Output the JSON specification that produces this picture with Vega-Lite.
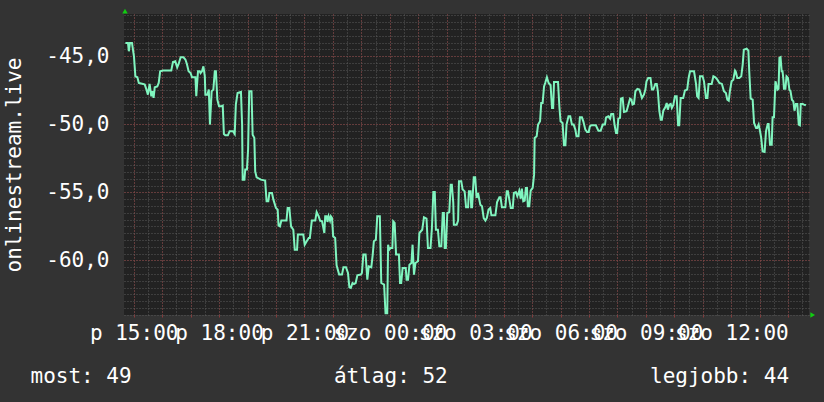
{
 "$schema": "https://vega.github.io/schema/vega-lite/v6.json",
 "width": 685,
 "height": 301,
 "autosize": {"type": "none"},
 "padding": {"left": 124, "top": 14, "right": 15, "bottom": 87},
 "background": "#333333",
 "view": {"fill": "#222222", "stroke": null},
 "config": {
  "axis": {"labelFont": "DejaVu Sans Mono", "titleFont": "DejaVu Sans Mono", "labelColor": "#ffffff", "titleColor": "#ffffff", "labelFontSize": 21, "titleFontSize": 21, "titleFontWeight": "normal", "domain": false, "ticks": false, "labelOverlap": false, "labelFlush": false, "gridDash": [1, 2], "gridWidth": 1}
 },
 "datasets": {
  "main": [
{"t":14.71,"v":-44.02},{"t":14.80,"v":-44.02},{"t":14.83,"v":-44.63},{"t":14.87,"v":-44.02},{"t":14.94,"v":-44.02},{"t":15.01,"v":-45.00},{"t":15.06,"v":-46.47},{"t":15.13,"v":-46.54},{"t":15.18,"v":-46.96},{"t":15.33,"v":-47.03},{"t":15.39,"v":-47.08},{"t":15.45,"v":-47.45},{"t":15.50,"v":-47.82},{"t":15.56,"v":-47.03},{"t":15.62,"v":-47.94},{"t":15.66,"v":-47.57},{"t":15.70,"v":-48.06},{"t":15.74,"v":-47.28},{"t":15.83,"v":-47.21},{"t":15.88,"v":-46.96},{"t":15.93,"v":-46.10},{"t":16.03,"v":-46.05},{"t":16.32,"v":-46.05},{"t":16.38,"v":-45.42},{"t":16.46,"v":-45.37},{"t":16.53,"v":-45.81},{"t":16.58,"v":-45.56},{"t":16.65,"v":-45.07},{"t":16.75,"v":-45.07},{"t":16.82,"v":-45.25},{"t":16.87,"v":-45.56},{"t":16.93,"v":-46.10},{"t":17.00,"v":-46.23},{"t":17.05,"v":-46.54},{"t":17.17,"v":-46.54},{"t":17.20,"v":-47.94},{"t":17.26,"v":-46.10},{"t":17.32,"v":-46.10},{"t":17.35,"v":-46.23},{"t":17.40,"v":-46.10},{"t":17.45,"v":-45.74},{"t":17.50,"v":-46.47},{"t":17.52,"v":-47.82},{"t":17.59,"v":-47.82},{"t":17.64,"v":-47.45},{"t":17.68,"v":-50.02},{"t":17.74,"v":-47.57},{"t":17.80,"v":-47.45},{"t":17.85,"v":-46.10},{"t":17.89,"v":-46.10},{"t":17.94,"v":-48.19},{"t":18.00,"v":-48.68},{"t":18.08,"v":-48.68},{"t":18.13,"v":-48.63},{"t":18.17,"v":-50.71},{"t":18.22,"v":-50.81},{"t":18.31,"v":-50.81},{"t":18.37,"v":-50.51},{"t":18.49,"v":-50.51},{"t":18.55,"v":-50.71},{"t":18.59,"v":-48.55},{"t":18.65,"v":-47.70},{"t":18.77,"v":-47.62},{"t":18.81,"v":-50.02},{"t":18.83,"v":-54.07},{"t":18.89,"v":-54.07},{"t":18.92,"v":-53.33},{"t":18.98,"v":-53.33},{"t":19.02,"v":-51.86},{"t":19.06,"v":-47.57},{"t":19.14,"v":-47.57},{"t":19.18,"v":-50.76},{"t":19.24,"v":-51.00},{"t":19.27,"v":-53.46},{"t":19.32,"v":-53.90},{"t":19.47,"v":-54.07},{"t":19.62,"v":-54.14},{"t":19.67,"v":-55.66},{"t":19.73,"v":-55.66},{"t":19.77,"v":-55.05},{"t":19.86,"v":-55.05},{"t":19.91,"v":-55.54},{"t":20.00,"v":-56.15},{"t":20.06,"v":-56.27},{"t":20.09,"v":-57.43},{"t":20.14,"v":-57.50},{"t":20.19,"v":-57.08},{"t":20.37,"v":-57.08},{"t":20.41,"v":-56.15},{"t":20.47,"v":-56.15},{"t":20.53,"v":-57.50},{"t":20.61,"v":-57.75},{"t":20.66,"v":-59.22},{"t":20.74,"v":-59.22},{"t":20.77,"v":-58.11},{"t":20.96,"v":-58.11},{"t":21.01,"v":-58.85},{"t":21.08,"v":-58.60},{"t":21.15,"v":-58.36},{"t":21.19,"v":-58.36},{"t":21.26,"v":-57.08},{"t":21.38,"v":-57.08},{"t":21.43,"v":-56.45},{"t":21.50,"v":-56.76},{"t":21.55,"v":-57.08},{"t":21.62,"v":-57.13},{"t":21.70,"v":-57.99},{"t":21.73,"v":-56.76},{"t":21.78,"v":-56.76},{"t":21.81,"v":-57.18},{"t":21.85,"v":-56.76},{"t":21.90,"v":-57.08},{"t":21.93,"v":-56.76},{"t":21.97,"v":-56.89},{"t":22.01,"v":-58.24},{"t":22.08,"v":-58.36},{"t":22.13,"v":-60.37},{"t":22.22,"v":-61.05},{"t":22.32,"v":-61.05},{"t":22.37,"v":-60.51},{"t":22.46,"v":-60.51},{"t":22.53,"v":-60.93},{"t":22.58,"v":-61.99},{"t":22.63,"v":-62.03},{"t":22.69,"v":-61.67},{"t":22.74,"v":-61.74},{"t":22.80,"v":-61.67},{"t":22.86,"v":-61.10},{"t":22.98,"v":-61.05},{"t":23.02,"v":-60.93},{"t":23.07,"v":-59.58},{"t":23.15,"v":-59.58},{"t":23.21,"v":-61.42},{"t":23.26,"v":-60.44},{"t":23.35,"v":-60.51},{"t":23.40,"v":-59.58},{"t":23.44,"v":-58.60},{"t":23.51,"v":-58.48},{"t":23.56,"v":-56.76},{"t":23.65,"v":-56.76},{"t":23.70,"v":-61.67},{"t":23.80,"v":-61.79},{"t":23.85,"v":-63.9},{"t":23.91,"v":-63.9},{"t":23.94,"v":-58.85},{"t":23.98,"v":-59.22},{"t":24.03,"v":-59.09},{"t":24.09,"v":-59.09},{"t":24.12,"v":-57.13},{"t":24.17,"v":-57.25},{"t":24.22,"v":-59.58},{"t":24.32,"v":-59.58},{"t":24.36,"v":-61.67},{"t":24.40,"v":-61.67},{"t":24.45,"v":-60.56},{"t":24.56,"v":-60.56},{"t":24.59,"v":-61.42},{"t":24.64,"v":-61.42},{"t":24.69,"v":-60.32},{"t":24.76,"v":-60.20},{"t":24.80,"v":-58.85},{"t":24.85,"v":-61.05},{"t":24.90,"v":-60.20},{"t":24.99,"v":-60.07},{"t":25.04,"v":-57.99},{"t":25.14,"v":-57.75},{"t":25.20,"v":-56.84},{"t":25.29,"v":-56.94},{"t":25.34,"v":-59.09},{"t":25.43,"v":-59.09},{"t":25.48,"v":-57.62},{"t":25.53,"v":-54.98},{"t":25.58,"v":-54.98},{"t":25.62,"v":-57.75},{"t":25.69,"v":-57.75},{"t":25.74,"v":-58.97},{"t":25.81,"v":-58.97},{"t":25.86,"v":-56.52},{"t":25.90,"v":-56.52},{"t":25.93,"v":-59.09},{"t":25.97,"v":-59.09},{"t":26.02,"v":-56.52},{"t":26.09,"v":-56.45},{"t":26.14,"v":-54.44},{"t":26.18,"v":-54.44},{"t":26.23,"v":-55.78},{"t":26.25,"v":-57.38},{"t":26.35,"v":-57.38},{"t":26.40,"v":-57.08},{"t":26.43,"v":-54.19},{"t":26.51,"v":-54.19},{"t":26.56,"v":-54.80},{"t":26.63,"v":-54.93},{"t":26.68,"v":-56.10},{"t":26.75,"v":-56.10},{"t":26.78,"v":-54.93},{"t":26.84,"v":-54.93},{"t":26.86,"v":-56.10},{"t":26.89,"v":-56.10},{"t":26.95,"v":-53.90},{"t":27.00,"v":-53.90},{"t":27.05,"v":-55.42},{"t":27.10,"v":-55.05},{"t":27.18,"v":-55.91},{"t":27.24,"v":-56.03},{"t":27.30,"v":-56.89},{"t":27.36,"v":-57.08},{"t":27.41,"v":-56.89},{"t":27.47,"v":-56.27},{"t":27.53,"v":-56.15},{"t":27.57,"v":-56.69},{"t":27.71,"v":-56.69},{"t":27.77,"v":-55.71},{"t":27.85,"v":-55.37},{"t":27.89,"v":-55.37},{"t":27.94,"v":-56.10},{"t":28.06,"v":-56.10},{"t":28.11,"v":-54.93},{"t":28.15,"v":-54.93},{"t":28.20,"v":-55.54},{"t":28.25,"v":-56.15},{"t":28.32,"v":-56.15},{"t":28.36,"v":-55.05},{"t":28.43,"v":-54.98},{"t":28.48,"v":-55.29},{"t":28.55,"v":-54.88},{"t":28.60,"v":-55.47},{"t":28.64,"v":-54.73},{"t":28.69,"v":-55.66},{"t":28.74,"v":-55.61},{"t":28.78,"v":-54.68},{"t":28.82,"v":-54.68},{"t":28.85,"v":-56.03},{"t":28.90,"v":-56.03},{"t":28.95,"v":-54.88},{"t":29.02,"v":-54.68},{"t":29.07,"v":-53.70},{"t":29.09,"v":-51.00},{"t":29.16,"v":-50.88},{"t":29.21,"v":-50.02},{"t":29.28,"v":-49.78},{"t":29.32,"v":-48.43},{"t":29.37,"v":-48.43},{"t":29.42,"v":-47.21},{"t":29.46,"v":-46.96},{"t":29.52,"v":-46.54},{"t":29.58,"v":-46.96},{"t":29.65,"v":-47.13},{"t":29.70,"v":-48.80},{"t":29.74,"v":-48.80},{"t":29.77,"v":-46.89},{"t":29.91,"v":-46.89},{"t":29.96,"v":-48.75},{"t":30.00,"v":-49.78},{"t":30.07,"v":-49.90},{"t":30.12,"v":-51.54},{"t":30.17,"v":-51.54},{"t":30.21,"v":-50.02},{"t":30.28,"v":-49.41},{"t":30.34,"v":-49.41},{"t":30.40,"v":-50.02},{"t":30.46,"v":-50.02},{"t":30.52,"v":-50.39},{"t":30.56,"v":-50.88},{"t":30.63,"v":-50.88},{"t":30.68,"v":-49.49},{"t":30.75,"v":-49.49},{"t":30.80,"v":-49.78},{"t":30.87,"v":-50.39},{"t":30.93,"v":-50.56},{"t":30.99,"v":-50.56},{"t":31.03,"v":-50.15},{"t":31.08,"v":-50.07},{"t":31.24,"v":-50.07},{"t":31.33,"v":-50.47},{"t":31.41,"v":-50.47},{"t":31.48,"v":-50.02},{"t":31.56,"v":-50.02},{"t":31.60,"v":-49.49},{"t":31.68,"v":-49.41},{"t":31.74,"v":-49.58},{"t":31.78,"v":-49.24},{"t":31.85,"v":-49.24},{"t":31.90,"v":-50.07},{"t":31.95,"v":-50.64},{"t":31.99,"v":-50.64},{"t":32.03,"v":-49.58},{"t":32.09,"v":-49.53},{"t":32.12,"v":-48.11},{"t":32.18,"v":-48.06},{"t":32.23,"v":-49.09},{"t":32.32,"v":-49.04},{"t":32.39,"v":-48.50},{"t":32.44,"v":-48.11},{"t":32.49,"v":-48.19},{"t":32.53,"v":-48.55},{"t":32.58,"v":-48.50},{"t":32.63,"v":-47.57},{"t":32.70,"v":-47.40},{"t":32.77,"v":-47.45},{"t":32.81,"v":-47.70},{"t":32.86,"v":-48.06},{"t":32.93,"v":-47.82},{"t":32.98,"v":-47.45},{"t":33.02,"v":-46.84},{"t":33.08,"v":-46.59},{"t":33.16,"v":-46.59},{"t":33.21,"v":-47.45},{"t":33.26,"v":-47.45},{"t":33.33,"v":-47.03},{"t":33.38,"v":-47.03},{"t":33.42,"v":-47.57},{"t":33.47,"v":-49.00},{"t":33.52,"v":-49.66},{"t":33.56,"v":-49.66},{"t":33.61,"v":-49.00},{"t":33.68,"v":-48.75},{"t":33.73,"v":-48.43},{"t":33.77,"v":-48.92},{"t":33.82,"v":-48.55},{"t":33.87,"v":-48.50},{"t":33.91,"v":-48.80},{"t":33.96,"v":-48.60},{"t":34.02,"v":-47.94},{"t":34.08,"v":-47.94},{"t":34.13,"v":-50.07},{"t":34.17,"v":-50.07},{"t":34.22,"v":-48.06},{"t":34.31,"v":-48.06},{"t":34.37,"v":-47.52},{"t":34.45,"v":-47.45},{"t":34.50,"v":-46.59},{"t":34.55,"v":-46.10},{"t":34.69,"v":-46.10},{"t":34.76,"v":-47.03},{"t":34.80,"v":-47.94},{"t":34.85,"v":-48.06},{"t":34.90,"v":-46.47},{"t":34.99,"v":-46.47},{"t":35.04,"v":-46.84},{"t":35.11,"v":-48.06},{"t":35.16,"v":-48.06},{"t":35.20,"v":-47.03},{"t":35.31,"v":-47.03},{"t":35.37,"v":-46.47},{"t":35.44,"v":-46.54},{"t":35.51,"v":-46.72},{"t":35.58,"v":-46.96},{"t":35.67,"v":-47.03},{"t":35.74,"v":-47.57},{"t":35.81,"v":-47.70},{"t":35.86,"v":-48.19},{"t":35.91,"v":-48.26},{"t":35.95,"v":-47.57},{"t":36.01,"v":-46.84},{"t":36.07,"v":-46.72},{"t":36.13,"v":-46.05},{"t":36.16,"v":-46.15},{"t":36.21,"v":-46.59},{"t":36.28,"v":-46.59},{"t":36.35,"v":-46.47},{"t":36.40,"v":-45.61},{"t":36.44,"v":-44.51},{"t":36.54,"v":-44.44},{"t":36.60,"v":-44.58},{"t":36.63,"v":-46.10},{"t":36.68,"v":-48.11},{"t":36.75,"v":-48.19},{"t":36.80,"v":-49.90},{"t":36.87,"v":-50.27},{"t":36.91,"v":-50.27},{"t":36.96,"v":-50.02},{"t":37.01,"v":-50.51},{"t":37.05,"v":-51.00},{"t":37.10,"v":-51.99},{"t":37.17,"v":-52.03},{"t":37.22,"v":-50.51},{"t":37.28,"v":-49.98},{"t":37.31,"v":-49.98},{"t":37.36,"v":-51.50},{"t":37.42,"v":-51.50},{"t":37.45,"v":-49.49},{"t":37.50,"v":-49.49},{"t":37.55,"v":-46.84},{"t":37.57,"v":-46.96},{"t":37.62,"v":-47.45},{"t":37.66,"v":-47.38},{"t":37.69,"v":-45.12},{"t":37.73,"v":-45.07},{"t":37.77,"v":-46.10},{"t":37.80,"v":-46.10},{"t":37.83,"v":-46.72},{"t":37.85,"v":-47.38},{"t":37.90,"v":-47.38},{"t":37.94,"v":-46.47},{"t":37.99,"v":-46.59},{"t":38.04,"v":-47.45},{"t":38.08,"v":-47.57},{"t":38.13,"v":-48.19},{"t":38.18,"v":-48.31},{"t":38.22,"v":-49.00},{"t":38.27,"v":-48.50},{"t":38.32,"v":-48.50},{"t":38.37,"v":-50.02},{"t":38.41,"v":-50.07},{"t":38.44,"v":-48.50},{"t":38.51,"v":-48.50},{"t":38.55,"v":-48.55},{"t":38.62,"v":-48.60}
  ]
 },
 "resolve": {"axis": {"x": "independent", "y": "independent"}},
 "layer": [
  {
   "data": {"name": "main"},
   "mark": {"type": "line", "color": "#80f5bf", "strokeWidth": 2, "clip": true},
   "encoding": {
    "x": {"field": "t", "type": "quantitative", "scale": {"domain": [14.66, 38.73], "nice": false, "zero": false},
     "axis": {"orient": "bottom", "grid": true, "gridColor": "#5a5a5a", "labels": false, "title": null,
      "values": [15,15.5,16,16.5,17,17.5,18,18.5,19,19.5,20,20.5,21,21.5,22,22.5,23,23.5,24,24.5,25,25.5,26,26.5,27,27.5,28,28.5,29,29.5,30,30.5,31,31.5,32,32.5,33,33.5,34,34.5,35,35.5,36,36.5,37,37.5,38,38.5]}},
    "y": {"field": "v", "type": "quantitative", "scale": {"domain": [-64.02, -41.89], "nice": false, "zero": false},
     "axis": {"orient": "left", "grid": true, "gridColor": "#5a5a5a", "labels": false, "title": null,
      "values": [-64,-63.5,-63,-62.5,-62,-61.5,-61,-60.5,-60,-59.5,-59,-58.5,-58,-57.5,-57,-56.5,-56,-55.5,-55,-54.5,-54,-53.5,-53,-52.5,-52,-51.5,-51,-50.5,-50,-49.5,-49,-48.5,-48,-47.5,-47,-46.5,-46,-45.5,-45,-44.5,-44,-43.5,-43,-42.5,-42]}}
   }
  },
  {
   "data": {"name": "main"},
   "mark": {"type": "line", "opacity": 0},
   "encoding": {
    "x": {"field": "t", "type": "quantitative", "scale": {"domain": [14.66, 38.73], "nice": false, "zero": false},
     "axis": {"orient": "bottom", "grid": true, "gridColor": "#8a3a3a", "labels": false, "title": null, "ticks": true, "tickSize": 2, "tickColor": "#8a3a3a",
      "values": [15,16,17,18,19,20,21,22,23,24,25,26,27,28,29,30,31,32,33,34,35,36,37,38]}},
    "y": {"field": "v", "type": "quantitative", "scale": {"domain": [-64.02, -41.89], "nice": false, "zero": false},
     "axis": {"orient": "left", "grid": true, "gridColor": "#8a3a3a", "values": [-60, -55, -50, -45],
      "labelExpr": "'-' + replace(format(-datum.value, '.1f'), '.', ',')", "labelPadding": 15, "labelBaseline": "middle",
      "title": "onlinestream.live", "titleX": -110, "titleY": 150.5, "titleAngle": -90, "titleAlign": "center", "titleBaseline": "middle"}}
   }
  },
  {
   "data": {"name": "main"},
   "mark": {"type": "line", "opacity": 0},
   "encoding": {
    "x": {"field": "t", "type": "quantitative", "scale": {"domain": [14.66, 38.73], "nice": false, "zero": false},
     "axis": {"orient": "bottom", "grid": false, "values": [15, 18, 21, 24, 27, 30, 33, 36],
      "labelExpr": "datum.value < 24 ? 'p ' + datum.value + ':00' : 'szo ' + (datum.value < 34 ? '0' : '') + (datum.value - 24) + ':00'",
      "labelPadding": 7,
      "title": "most: 49\u00a0\u00a0\u00a0\u00a0\u00a0\u00a0\u00a0\u00a0\u00a0\u00a0\u00a0\u00a0\u00a0\u00a0\u00a0\u00a0átlag: 52\u00a0\u00a0\u00a0\u00a0\u00a0\u00a0\u00a0\u00a0\u00a0\u00a0\u00a0\u00a0\u00a0\u00a0\u00a0\u00a0legjobb: 44",
      "titleX": -94, "titleY": 67, "titleAlign": "left", "titleAnchor": "start", "titleBaseline": "alphabetic"}},
    "y": {"field": "v", "type": "quantitative", "scale": {"domain": [-64.02, -41.89], "nice": false, "zero": false}, "axis": null}
   }
  },
  {
   "data": {"values": [{}]},
   "mark": {"type": "point", "shape": "triangle-up", "filled": true, "color": "#11cc11", "size": 30, "opacity": 1},
   "encoding": {
    "x": {"datum": 14.695, "type": "quantitative", "scale": {"domain": [14.66, 38.73], "nice": false, "zero": false}, "axis": null},
    "y": {"datum": -41.67, "type": "quantitative", "scale": {"domain": [-64.02, -41.89], "nice": false, "zero": false}, "axis": null}
   }
  },
  {
   "data": {"values": [{}]},
   "mark": {"type": "point", "shape": "triangle-right", "filled": true, "color": "#11cc11", "size": 30, "opacity": 1},
   "encoding": {
    "x": {"datum": 38.86, "type": "quantitative", "scale": {"domain": [14.66, 38.73], "nice": false, "zero": false}, "axis": null},
    "y": {"datum": -64.02, "type": "quantitative", "scale": {"domain": [-64.02, -41.89], "nice": false, "zero": false}, "axis": null}
   }
  }
 ]
}
